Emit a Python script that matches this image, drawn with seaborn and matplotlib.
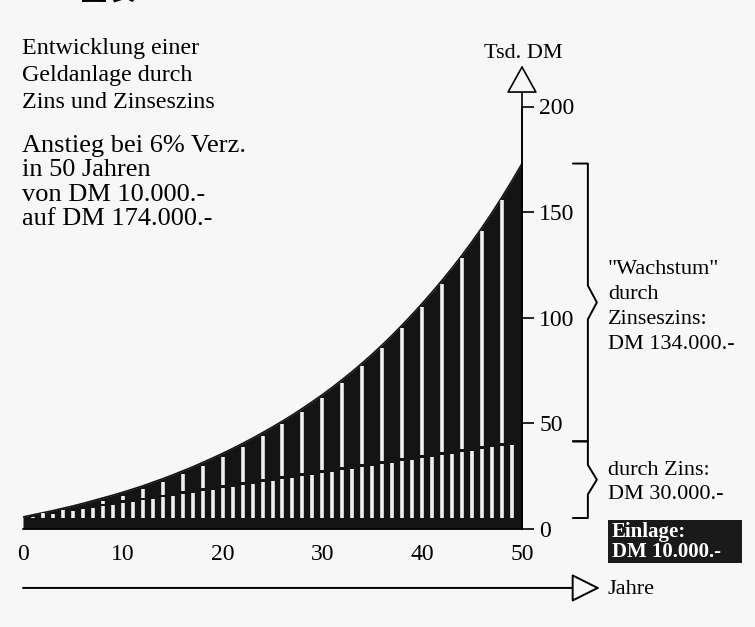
import matplotlib
matplotlib.use("Agg")
import matplotlib.pyplot as plt
from matplotlib.patches import Rectangle
import pandas as pd
import seaborn as sns

# Werte (Tsd. DM, Massstab der Zeichnung)
jahre = list(range(51))
zinseszins = [5.7, 6.7, 7.7, 8.7, 9.8, 10.9, 12.1, 13.4, 14.7, 16.0,
              17.4, 18.9, 20.4, 22.1, 23.8, 25.6, 27.5, 29.4, 31.5, 33.6,
              35.8, 38.1, 40.5, 43.0, 45.6, 48.3, 51.1, 54.0, 57.1, 60.3,
              63.6, 67.1, 70.8, 74.6, 78.6, 82.8, 87.2, 91.8, 96.6, 101.6,
              106.8, 112.2, 117.8, 123.6, 129.7, 136.1, 142.8, 149.8, 157.2, 164.9,
              173.0]
zins = [5.7, 6.4, 7.1, 7.8, 8.6, 9.3, 10.0, 10.7, 11.4, 12.1,
        12.9, 13.6, 14.3, 15.0, 15.7, 16.4, 17.2, 17.9, 18.6, 19.3,
        20.0, 20.7, 21.5, 22.2, 22.9, 23.6, 24.3, 25.0, 25.7, 26.5,
        27.2, 27.9, 28.6, 29.3, 30.0, 30.8, 31.5, 32.2, 32.9, 33.6,
        34.3, 35.1, 35.8, 36.5, 37.2, 37.9, 38.6, 39.4, 40.1, 40.8,
        41.5]
einlage = 5.2
x_ticks = [0, 10, 20, 30, 40, 50]
y_ticks = [0, 50, 100, 150, 200]

df = pd.DataFrame({"jahr": jahre, "zinseszins": zinseszins, "zins": zins})

sns.set_theme(style="white")
plt.rcParams["font.family"] = ["Liberation Serif", "DejaVu Serif"]
bg = "#f7f7f7"
ink = "#141414"
stripe = "#f0f0f0"

fig = plt.figure(figsize=(7.55, 6.27), dpi=100, facecolor=bg)
ax = fig.add_axes([23 / 755, 98 / 627, 499 / 755, 422.5 / 627])
ax.set_facecolor(bg)

# black area under the curve
ax.fill_between(df["jahr"], 0, df["zinseszins"], color=ink, lw=0)
sns.lineplot(x="jahr", y="zinseszins", data=df, color=ink, lw=1.2, ax=ax)

# white stripes: every year up to simple interest, every 2nd year up to the curve
inner = df[(df["jahr"] > 0) & (df["jahr"] < 50)]
kurz = inner[inner["jahr"] % 2 == 1]
lang = inner[inner["jahr"] % 2 == 0]
top_k = kurz["zins"] - 0.8
m = top_k > einlage
ax.vlines(kurz["jahr"][m], einlage, top_k[m], colors=stripe, lw=2.6)
top_l = lang["zins"] - 0.6
m = top_l > einlage
ax.vlines(lang["jahr"][m], einlage, top_l[m], colors=stripe, lw=2.6)
ax.vlines(lang["jahr"], lang["zins"] + 0.6, lang["zinseszins"] - 1.6, colors=stripe, lw=2.6)

ax.set_xlim(0, 50)
ax.set_ylim(0, 200)
ax.set_xlabel("")
ax.set_ylabel("")
ax.set_xticks(x_ticks)
ax.set_yticks(y_ticks)
ax.yaxis.tick_right()
for s in ["left", "top"]:
    ax.spines[s].set_visible(False)
for s in ["right", "bottom"]:
    ax.spines[s].set_color("black")
    ax.spines[s].set_linewidth(1.2)
ax.tick_params(axis="x", direction="out", length=8.5, width=1.2, pad=2, labelsize=17, colors="black")
ax.tick_params(axis="y", direction="out", length=8.5, width=1.2, pad=4, labelsize=17, colors="black")

# y axis arrow (open head)
ax.annotate("", xy=(50, 219.5), xytext=(50, 0), annotation_clip=False,
            arrowprops=dict(arrowstyle="-|>,head_length=0.9,head_width=0.5", mutation_scale=20,
                            fc=bg, ec="black", lw=1.2, shrinkA=0, shrinkB=0))
# Jahre arrow below
ax.annotate("", xy=(57.8, -27.9), xytext=(0, -27.9), annotation_clip=False,
            arrowprops=dict(arrowstyle="-|>,head_length=0.9,head_width=0.45", mutation_scale=20,
                            fc=bg, ec="black", lw=1.4, shrinkA=0, shrinkB=0))


def klammer(top, bottom, knick):
    mid = (top + bottom) / 2
    xs = [55.1, 56.6, 56.6, 57.5, 56.6, 56.6, 55.1]
    ys = [top, top, mid + knick, mid, mid - knick, bottom, bottom]
    ax.plot(xs, ys, color="black", lw=1.4, clip_on=False)


klammer(zinseszins[-1], zins[-1], 8)
klammer(zins[-1], einlage, 7)


def ftext(px, py, s, **kw):
    fig.text(px / 755, 1 - py / 627, s, fontsize=kw.pop("fontsize", 16),
             color=kw.pop("color", "black"), **kw)


ftext(22, 38, "Entwicklung einer\nGeldanlage durch\nZins und Zinseszins",
      va="top", ha="left", fontsize=17.3, linespacing=1.38)
ftext(22, 135, "Anstieg bei 6% Verz.\nin 50 Jahren\nvon DM 10.000.-\nauf DM 174.000.-",
      va="top", ha="left", fontsize=19, linespacing=1.14)
ftext(523, 53, "Tsd. DM", va="center", ha="center")
ftext(608, 260, "\"Wachstum\"\ndurch\nZinseszins:\nDM 134.000.-", va="top", ha="left", linespacing=1.44)
ftext(608, 461, "durch Zins:\nDM 30.000.-", va="top", ha="left", linespacing=1.33)
ftext(607, 590, "Jahre", va="center", ha="left")

fig.patches.append(Rectangle((608 / 755, 1 - 563 / 627), 134 / 755, 43 / 627,
                             transform=fig.transFigure, facecolor="#1a1a1a", edgecolor="none"))
ftext(612, 542, "Einlage:\nDM 10.000.-", va="center", ha="left", color="white",
      fontweight="bold", fontsize=15, linespacing=1.05)

ftext(80, 6, "图表", va="bottom", ha="left", fontsize=20, family=["Noto Sans CJK SC"], fontweight="bold")

fig.savefig("out.png", dpi=100, facecolor=bg)
